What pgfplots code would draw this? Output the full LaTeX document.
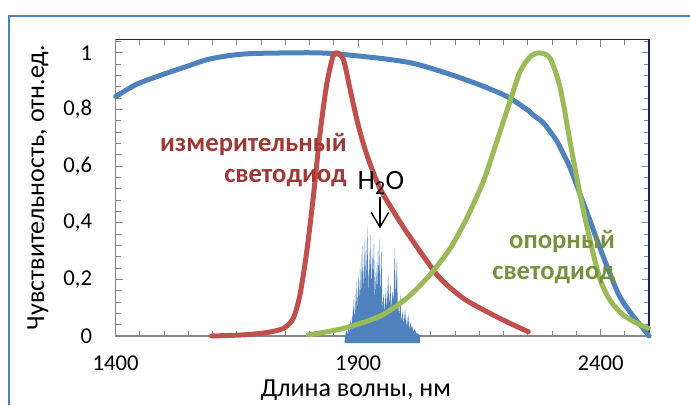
\documentclass[border=0pt]{standalone}
\usepackage{pgfplots}
\pgfplotsset{compat=1.18}
\usepackage{fontspec}
\setmainfont{Carlito}
\usetikzlibrary{arrows.meta}
\definecolor{cblue}{RGB}{79,129,189}
\definecolor{cred}{RGB}{192,80,77}
\definecolor{cgreen}{RGB}{155,187,89}
\definecolor{tred}{RGB}{158,56,54}
\definecolor{tgreen}{RGB}{118,146,60}
\definecolor{navy}{RGB}{31,31,99}
\definecolor{axgray}{RGB}{134,134,134}
\definecolor{frameblue}{RGB}{79,129,189}
\begin{document}
\begin{tikzpicture}
\useasboundingbox (0,0) rectangle (517.5pt,303.75pt);
\draw[frameblue, line width=1.5pt] (517.5pt,291.75pt) -- (7.1pt,291.75pt) -- (7.1pt,0pt);
\begin{axis}[
  at={(86.78pt,51.75pt)}, anchor=south west,
  width=400pt, height=222.5pt, scale only axis,
  xmin=1400, xmax=2500, ymin=0, ymax=1.048,
  clip=false,
  xtick={1400,1900,2400},
  minor xtick={1450,1500,1550,1600,1650,1700,1750,1800,1850,1950,2000,2050,2100,2150,2200,2250,2300,2350,2450,2500},
  ytick={0,0.2,0.4,0.6,0.8,1},
  minor ytick={0.04,0.08,0.12,0.16,0.24,0.28,0.32,0.36,0.44,0.48,0.52,0.56,0.64,0.68,0.72,0.76,0.84,0.88,0.92,0.96,1.04},
  tick align=inside,
  major tick length=5.5pt, minor tick length=4pt,
  every tick/.style={draw=axgray, line width=0.75pt},
  axis line style={draw=navy, line width=0.9pt},
  /pgf/number format/assume math mode=true,
  /pgf/number format/use comma,
  xticklabel style={font=\fontsize{17}{19}\selectfont, inner sep=0pt, yshift=-15pt},
  yticklabel style={font=\fontsize{17}{19}\selectfont, inner sep=0pt, xshift=-17.5pt},
  xticklabel={\pgfmathprintnumber[fixed,1000 sep={}]{\tick}},
  xlabel={Длина волны, нм},
  ylabel={Чувствительность, отн.ед.},
  xlabel style={font=\fontsize{19.5}{22}\selectfont, at={(axis description cs:0.45,-0.182)}, anchor=center},
  ylabel style={font=\fontsize{19.5}{22}\selectfont, at={(axis description cs:-0.1457,0.5)}, anchor=center},
]
\draw[axgray, line width=1.1pt] (rel axis cs:0,1) -- (rel axis cs:0,0) -- (rel axis cs:1,0);
% detector sensitivity
\addplot[cblue, line width=3.75pt, smooth, tension=0.5, line cap=round] coordinates {
(1400,0.846) (1443,0.889) (1491,0.920) (1546,0.952) (1595,0.979) (1663,0.996)
(1753,1.000) (1835,0.999) (1945,0.981) (2014,0.963) (2083,0.928) (2151,0.887)
(2207,0.846) (2248,0.800) (2261,0.781) (2282,0.753) (2296,0.722) (2310,0.688) (2323,0.645) (2337,0.595) (2358,0.500)
(2379,0.404) (2399,0.310) (2420,0.218) (2440,0.138) (2468,0.068) (2492,0.018) (2500,0.0)
};
% water absorption
\addplot[fill=cblue, draw=none] coordinates {
(1872,-0.025) (1873,0) (1876,0.02) (1878,0.005) (1880,0.04) (1882,0.01) (1884,0.06) (1886,0.02)
(1888,0.09) (1889,0.04) (1890.5,0.13) (1892,0.05) (1894,0.15) (1895.5,0.07) (1897,0.2) (1899,0.09)
(1901,0.22) (1902.5,0.11) (1904,0.26) (1906,0.12) (1907.5,0.29) (1908.5,0.16) (1909.5,0.32) (1911.5,0.15)
(1914,0.36) (1916,0.18) (1919,0.39) (1921,0.14) (1923,0.3) (1924.5,0.2) (1926,0.36) (1928,0.16)
(1930,0.3) (1931,0.2) (1932.5,0.355) (1934.5,0.12) (1937,0.26) (1939,0.15) (1941,0.3) (1942,0.2)
(1943.5,0.345) (1945.5,0.13) (1948,0.32) (1950,0.09) (1952.5,0.15) (1954.5,0.08) (1957,0.17) (1959,0.09)
(1962,0.22) (1964,0.1) (1966.5,0.19) (1968.5,0.09) (1971,0.16) (1973,0.12) (1975.5,0.31) (1977.5,0.13)
(1980,0.28) (1982,0.07) (1984,0.12) (1985.5,0.06) (1987,0.15) (1989,0.05) (1992,0.09) (1994,0.04)
(1997,0.1) (1999,0.03) (2001,0.07) (2003,0.03) (2004,0.08) (2006,0.02) (2008,0.05) (2010,0.02)
(2011,0.04) (2014,0.015) (2017,0.025) (2020,0.01) (2024,0.008) (2028,0) (2028,-0.025)
} -- cycle;
% measuring LED
\addplot[cred, line width=3.75pt, smooth, tension=0.45, line cap=round] coordinates {
(1598,0.0) (1663,0.004) (1711,0.012) (1746,0.027) (1766,0.062) (1780,0.145)
(1794,0.298) (1808,0.498) (1821,0.710) (1835,0.887) (1848,0.987) (1857,1.000)
(1870,0.975) (1883,0.875) (1900,0.746) (1918,0.640) (1945,0.522) (1986,0.404)
(2028,0.298) (2069,0.204) (2117,0.133) (2172,0.080) (2213,0.045) (2251,0.015)
};
% reference LED
\addplot[cgreen, line width=3.75pt, smooth, tension=0.45, line cap=round] coordinates {
(1797,0.004) (1870,0.027) (1945,0.070) (2000,0.133) (2048,0.216) (2090,0.310)
(2124,0.416) (2158,0.545) (2186,0.687) (2213,0.828) (2234,0.934) (2255,0.987)
(2274,1.000) (2296,0.981) (2317,0.875) (2337,0.687) (2358,0.498) (2379,0.333)
(2399,0.200) (2420,0.125) (2447,0.074) (2475,0.045) (2499,0.027)
};
\node[anchor=east, align=right, inner sep=0pt, text=tred, font=\fontsize{20}{23}\selectfont\bfseries] at (axis cs:1877,0.622) {измерительный\\светодиод};
\node[anchor=east, align=right, inner sep=0pt, text=tgreen, font=\fontsize{20}{23}\selectfont\bfseries] at (axis cs:2430,0.279) {опорный\\светодиод};
\node[anchor=base, inner sep=0pt, font=\fontsize{21}{24}\selectfont] at (axis cs:1947,0.516) {H\textsubscript{2}O};
\draw[black, line width=1pt, -{Straight Barb[length=11pt, width=13pt]}] (axis cs:1945,0.492) -- (axis cs:1945,0.38);
\end{axis}
\end{tikzpicture}
\end{document}
